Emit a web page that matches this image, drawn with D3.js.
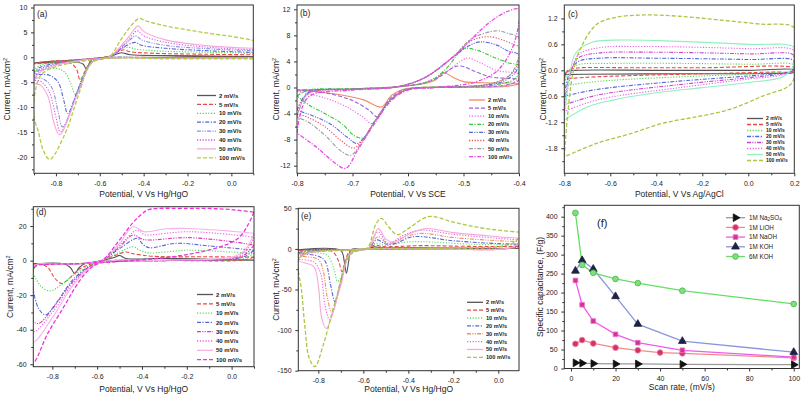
<!DOCTYPE html>
<html><head><meta charset="utf-8">
<script src="https://cdn.jsdelivr.net/npm/d3@7"></script>
<style>body{margin:0;background:#fff}svg{display:block}text{font-family:"Liberation Sans",Arial,sans-serif;fill:#222}</style>
</head><body><svg id="c" width="803" height="400"></svg>
<script>
// ---------- data ----------
const rateLabels = ["2 mV/s","5 mV/s","10 mV/s","20 mV/s","30 mV/s","40 mV/s","50 mV/s","100 mV/s"];

// (a) Hg/HgO  [potential V, current mA/cm2]
const cvA = [
 [[0.1,0.15],[-0.2,0.05],[-0.45,-0.05],[-0.6,-0.2],[-0.64,-0.6],[-0.66,-2.5],[-0.675,-1.4],[-0.7,-1.0],[-0.8,-1.0],[-0.9,-1.15],[-0.85,-0.9],[-0.7,-0.5],[-0.6,-0.1],[-0.55,0.2],[-0.52,0.7],[-0.5,0.9],[-0.46,0.5],[-0.3,0.35],[-0.1,0.25],[0.1,0.15]],
 [[0.1,0.0],[-0.3,-0.05],[-0.6,-0.2],[-0.64,-0.8],[-0.67,-3.0],[-0.69,-4.6],[-0.705,-2.5],[-0.73,-1.3],[-0.8,-1.1],[-0.9,-1.3],[-0.85,-0.9],[-0.7,-0.5],[-0.6,-0.1],[-0.55,0.3],[-0.51,1.2],[-0.49,1.5],[-0.46,1.1],[-0.35,0.8],[-0.1,0.6],[0.1,0.5]],
 [[0.1,-0.05],[-0.3,-0.1],[-0.6,-0.25],[-0.64,-1.0],[-0.68,-4.0],[-0.712,-7.4],[-0.73,-5.5],[-0.76,-3.0],[-0.8,-2.2],[-0.9,-2.6],[-0.87,-1.6],[-0.8,-1.0],[-0.65,-0.4],[-0.57,0],[-0.53,0.9],[-0.49,1.9],[-0.47,2.0],[-0.43,1.6],[-0.3,1.2],[-0.1,1.0],[0.1,0.8]],
 [[0.1,-0.1],[-0.3,-0.15],[-0.6,-0.3],[-0.64,-1.2],[-0.7,-6.5],[-0.746,-11.3],[-0.765,-8.5],[-0.79,-5],[-0.83,-3.6],[-0.9,-3.3],[-0.88,-2.2],[-0.8,-1.2],[-0.65,-0.4],[-0.56,0],[-0.5,1.8],[-0.44,3.0],[-0.41,2.4],[-0.3,1.8],[-0.1,1.3],[0.1,1.0]],
 [[0.1,-0.1],[-0.3,-0.15],[-0.6,-0.3],[-0.64,-1.2],[-0.7,-6.8],[-0.77,-14],[-0.79,-11],[-0.82,-6],[-0.86,-4.3],[-0.9,-4.0],[-0.88,-2.6],[-0.8,-1.4],[-0.65,-0.4],[-0.56,0],[-0.48,2.8],[-0.435,4.3],[-0.41,3.5],[-0.3,2.4],[-0.1,1.7],[0.1,1.3]],
 [[0.1,-0.1],[-0.3,-0.2],[-0.6,-0.3],[-0.64,-1.2],[-0.7,-7],[-0.779,-15],[-0.8,-12],[-0.83,-7],[-0.87,-4.8],[-0.9,-4.5],[-0.88,-3],[-0.8,-1.5],[-0.65,-0.4],[-0.56,0],[-0.47,3.5],[-0.43,5.3],[-0.4,4.3],[-0.3,3.0],[-0.1,2.0],[0.1,1.5]],
 [[0.1,-0.15],[-0.3,-0.2],[-0.6,-0.3],[-0.64,-1.2],[-0.7,-7.2],[-0.784,-15.6],[-0.81,-13],[-0.835,-8],[-0.87,-5.6],[-0.9,-5.2],[-0.88,-3.3],[-0.8,-1.6],[-0.65,-0.4],[-0.56,0],[-0.47,4.0],[-0.425,6.3],[-0.4,5.2],[-0.3,3.5],[-0.1,2.3],[0.1,1.8]],
 [[0.1,-0.3],[-0.3,-0.3],[-0.6,-0.4],[-0.645,-1.5],[-0.7,-8],[-0.76,-15.5],[-0.828,-20.5],[-0.855,-19],[-0.88,-15],[-0.9,-12],[-0.9,-8.6],[-0.875,-4],[-0.84,-2.6],[-0.76,-1.4],[-0.65,-0.6],[-0.56,0],[-0.5,3.8],[-0.44,7.2],[-0.418,7.8],[-0.39,7.3],[-0.3,6.3],[-0.2,5.5],[-0.1,4.8],[0,4.2],[0.1,3.4]]
];

// (b) SCE
const cvB = [
 [[-0.8,-0.4],[-0.7,-0.2],[-0.62,0.1],[-0.57,0.6],[-0.55,1.2],[-0.536,2.3],[-0.52,1.6],[-0.5,0.9],[-0.45,0.7],[-0.4,0.6],[-0.42,0.2],[-0.5,0.05],[-0.58,0],[-0.61,-0.3],[-0.63,-1.2],[-0.648,-3.0],[-0.68,-1.9],[-0.72,-1.15],[-0.76,-0.7],[-0.8,-0.4]],
 [[-0.8,-0.4],[-0.7,-0.2],[-0.62,0.1],[-0.57,0.7],[-0.54,1.8],[-0.52,3.0],[-0.505,3.3],[-0.48,2.5],[-0.45,1.6],[-0.4,1.2],[-0.42,0.4],[-0.5,0.05],[-0.58,-0.05],[-0.61,-0.4],[-0.635,-2],[-0.655,-4.5],[-0.67,-3.5],[-0.7,-2],[-0.75,-0.8],[-0.8,-0.4]],
 [[-0.8,-0.6],[-0.7,-0.2],[-0.62,0.1],[-0.57,0.8],[-0.53,2.5],[-0.5,4.3],[-0.49,4.5],[-0.47,3.8],[-0.44,2.6],[-0.4,2.0],[-0.41,0.7],[-0.45,0.2],[-0.55,0],[-0.6,-0.3],[-0.63,-1.5],[-0.665,-5.5],[-0.68,-4.6],[-0.71,-3],[-0.75,-1.6],[-0.8,-0.6]],
 [[-0.8,-1.3],[-0.78,-0.4],[-0.7,-0.2],[-0.62,0.1],[-0.56,1],[-0.53,3],[-0.51,5.2],[-0.5,6.0],[-0.475,5.7],[-0.45,4.8],[-0.42,3.8],[-0.4,3.3],[-0.405,1.5],[-0.43,0.6],[-0.5,0.1],[-0.6,-0.3],[-0.63,-1.8],[-0.66,-5.2],[-0.68,-7.7],[-0.695,-7.5],[-0.72,-5.5],[-0.75,-4.0],[-0.78,-2.6],[-0.8,-1.3]],
 [[-0.8,-3.5],[-0.78,-0.8],[-0.7,-0.3],[-0.62,0.1],[-0.57,1.5],[-0.52,4.6],[-0.49,6.4],[-0.47,7.0],[-0.44,6.5],[-0.42,5.6],[-0.4,5.0],[-0.405,2.5],[-0.43,0.9],[-0.47,0.3],[-0.55,0],[-0.6,-0.3],[-0.63,-1.8],[-0.66,-5.2],[-0.68,-7.8],[-0.692,-8.6],[-0.71,-7.6],[-0.74,-5.6],[-0.77,-4.4],[-0.8,-3.5]],
 [[-0.8,-4],[-0.78,-0.9],[-0.7,-0.3],[-0.62,0.1],[-0.57,1.5],[-0.52,4.6],[-0.485,7.2],[-0.455,7.8],[-0.43,7.3],[-0.41,6.6],[-0.4,6.2],[-0.405,3],[-0.43,1.2],[-0.47,0.3],[-0.55,0],[-0.6,-0.3],[-0.63,-1.8],[-0.66,-5.2],[-0.68,-7.8],[-0.698,-9.3],[-0.72,-8.2],[-0.75,-6.0],[-0.78,-4.6],[-0.8,-4]],
 [[-0.8,-4.6],[-0.78,-1],[-0.7,-0.3],[-0.62,0.1],[-0.57,1.5],[-0.52,4.6],[-0.485,7.5],[-0.44,8.7],[-0.42,8.3],[-0.4,7.6],[-0.403,4],[-0.42,1.6],[-0.46,0.4],[-0.55,0],[-0.6,-0.3],[-0.63,-1.8],[-0.66,-5.2],[-0.68,-8],[-0.703,-10.4],[-0.72,-9.8],[-0.75,-7.3],[-0.78,-5.3],[-0.8,-4.6]],
 [[-0.8,-7],[-0.78,-1.5],[-0.7,-0.4],[-0.62,0.1],[-0.57,1.5],[-0.52,4.6],[-0.485,7.5],[-0.45,10.2],[-0.42,11.7],[-0.4,12],[-0.402,9],[-0.415,5.5],[-0.44,2.5],[-0.48,0.8],[-0.55,0],[-0.6,-0.4],[-0.63,-2],[-0.66,-5.5],[-0.69,-9.5],[-0.712,-12.4],[-0.73,-11.7],[-0.76,-9.5],[-0.78,-8.2],[-0.8,-7]]
];

// (c) Ag/AgCl
const cvC = [
 [[-0.8,-0.1],[-0.785,-0.02],[-0.75,0.0],[-0.4,0.0],[0,0.0],[0.2,0.01],[0.195,-0.05],[0.1,-0.07],[-0.3,-0.08],[-0.7,-0.09],[-0.8,-0.1]],
 [[-0.8,-0.2],[-0.785,0.0],[-0.75,0.05],[-0.5,0.06],[-0.2,0.06],[0.2,0.05],[0.195,-0.02],[0.1,-0.04],[-0.2,-0.08],[-0.5,-0.12],[-0.7,-0.16],[-0.8,-0.2]],
 [[-0.8,-0.36],[-0.78,0.0],[-0.74,0.13],[-0.6,0.16],[-0.3,0.16],[0,0.14],[0.2,0.12],[0.195,-0.02],[0.1,-0.06],[-0.2,-0.13],[-0.5,-0.2],[-0.7,-0.28],[-0.8,-0.36]],
 [[-0.8,-0.6],[-0.78,-0.1],[-0.74,0.2],[-0.65,0.28],[-0.4,0.28],[0,0.25],[0.2,0.22],[0.195,0.0],[0.15,-0.06],[0,-0.13],[-0.3,-0.25],[-0.6,-0.4],[-0.7,-0.48],[-0.8,-0.6]],
 [[-0.8,-0.8],[-0.78,-0.2],[-0.74,0.28],[-0.65,0.4],[-0.45,0.42],[0,0.38],[0.2,0.34],[0.195,0.0],[0.15,-0.08],[0,-0.17],[-0.3,-0.33],[-0.6,-0.52],[-0.7,-0.63],[-0.8,-0.8]],
 [[-0.8,-0.95],[-0.78,-0.3],[-0.74,0.35],[-0.65,0.52],[-0.45,0.55],[0,0.5],[0.2,0.45],[0.195,0.05],[0.15,-0.1],[0,-0.2],[-0.3,-0.4],[-0.6,-0.62],[-0.7,-0.75],[-0.8,-0.95]],
 [[-0.8,-1.15],[-0.785,-0.4],[-0.75,0.4],[-0.68,0.65],[-0.55,0.7],[-0.3,0.67],[0,0.6],[0.2,0.52],[0.195,0.1],[0.15,-0.15],[0,-0.28],[-0.2,-0.4],[-0.4,-0.52],[-0.6,-0.7],[-0.7,-0.85],[-0.8,-1.15]],
 [[-0.8,-2.0],[-0.785,-1.0],[-0.76,0.0],[-0.73,0.5],[-0.66,1.06],[-0.58,1.22],[-0.45,1.28],[-0.3,1.25],[-0.1,1.15],[0.05,1.07],[0.2,0.98],[0.197,0.3],[0.19,-0.29],[0.06,-0.6],[-0.08,-0.9],[-0.22,-1.07],[-0.37,-1.22],[-0.51,-1.46],[-0.66,-1.69],[-0.8,-2.0]]
];

// (d) Hg/HgO
const cvD = [
 [[0.1,0.3],[-0.3,0.2],[-0.6,-1.0],[-0.65,-1.5],[-0.68,-4],[-0.7,-7.5],[-0.72,-4],[-0.75,-1.8],[-0.885,-1.8],[-0.8,-1.7],[-0.65,-1.5],[-0.58,0],[-0.52,2],[-0.5,3],[-0.47,1.2],[-0.3,1.3],[-0.1,0.8],[0.1,0.3]],
 [[0.1,2],[0.05,0.3],[-0.3,0],[-0.6,-1.2],[-0.68,-5],[-0.73,-11],[-0.76,-13.2],[-0.79,-10],[-0.82,-4],[-0.85,-2.2],[-0.885,-2],[-0.8,-1.8],[-0.65,-1.5],[-0.58,0],[-0.52,3],[-0.47,5],[-0.44,4],[-0.35,2.5],[-0.1,2.2],[0.1,2]],
 [[0.1,4.2],[0.06,1.5],[0,0.5],[-0.3,0],[-0.6,-1.3],[-0.7,-8],[-0.76,-14],[-0.81,-17.5],[-0.85,-15],[-0.875,-10],[-0.885,-7],[-0.87,-2.5],[-0.8,-1.8],[-0.65,-1.5],[-0.58,0],[-0.5,5],[-0.44,8],[-0.41,6],[-0.37,4.5],[-0.2,6],[0,5],[0.1,4.2]],
 [[0.1,6],[0.06,2.5],[0,0.8],[-0.3,0],[-0.6,-1.5],[-0.7,-10],[-0.78,-24],[-0.83,-31.4],[-0.86,-28],[-0.885,-16],[-0.88,-3],[-0.8,-2],[-0.65,-1.5],[-0.58,0],[-0.5,7],[-0.42,12.9],[-0.4,10],[-0.37,7.5],[-0.25,10],[-0.1,8.5],[0.1,6]],
 [[0.1,9],[0.06,3.5],[0,1],[-0.3,0],[-0.6,-1.6],[-0.7,-11],[-0.8,-28],[-0.86,-36.3],[-0.885,-35],[-0.88,-3],[-0.8,-2],[-0.65,-1.5],[-0.58,0],[-0.5,8],[-0.44,14.8],[-0.4,12.5],[-0.37,11.9],[-0.2,13.3],[0,11],[0.1,9]],
 [[0.1,13.5],[0.06,5],[0,1.5],[-0.3,0],[-0.6,-1.7],[-0.7,-12],[-0.8,-30],[-0.885,-41],[-0.88,-3],[-0.8,-2],[-0.65,-1.5],[-0.58,0],[-0.5,9],[-0.42,17.7],[-0.39,15],[-0.37,14.8],[-0.2,16.7],[0,15],[0.1,13.5]],
 [[0.1,15.8],[0.06,6],[0,2],[-0.3,0.2],[-0.6,-1.8],[-0.7,-13],[-0.8,-33],[-0.885,-47],[-0.88,-3],[-0.8,-2],[-0.65,-1.5],[-0.58,0],[-0.5,10],[-0.44,19.6],[-0.39,16.7],[-0.3,18.3],[-0.2,18.6],[0,17],[0.1,15.8]],
 [[0.1,28],[0.07,20],[0.03,13],[-0.05,8],[-0.2,3.5],[-0.35,1],[-0.5,-0.5],[-0.6,-2],[-0.65,-7],[-0.7,-16],[-0.75,-27],[-0.82,-42],[-0.885,-59],[-0.88,-4],[-0.8,-2.2],[-0.65,-1.5],[-0.58,0],[-0.5,12],[-0.44,22],[-0.4,27],[-0.37,29.5],[-0.2,30.2],[-0.1,30.2],[0,29.5],[0.1,28]]
];

// (e) Hg/HgO
const cvE = [
 [[0.1,0.5],[-0.3,0],[-0.6,-0.5],[-0.655,-1],[-0.665,-15],[-0.675,-30],[-0.685,-15],[-0.7,-2],[-0.889,-1],[-0.8,-0.8],[-0.62,-0.5],[-0.58,0],[-0.55,2.5],[-0.52,1.5],[-0.4,1.5],[-0.2,1],[0.1,0.5]],
 [[0.1,1],[-0.3,0],[-0.6,-0.5],[-0.66,-3],[-0.685,-20],[-0.695,-28],[-0.71,-15],[-0.74,-3],[-0.889,-2],[-0.8,-1.5],[-0.62,-0.5],[-0.58,0],[-0.55,4.9],[-0.52,3],[-0.45,3],[-0.35,4],[-0.1,3],[0.1,3]],
 [[0.1,3],[0.07,1],[-0.3,0],[-0.6,-0.6],[-0.66,-5],[-0.7,-35],[-0.715,-40],[-0.73,-25],[-0.76,-8],[-0.8,-5],[-0.889,-4],[-0.85,-2],[-0.62,-0.6],[-0.58,0],[-0.545,7],[-0.5,4],[-0.42,8],[-0.35,9],[-0.1,5.5],[0.1,4.9]],
 [[0.1,5.7],[0.07,1.5],[-0.3,0],[-0.6,-0.7],[-0.66,-6],[-0.7,-40],[-0.726,-65],[-0.745,-45],[-0.77,-15],[-0.8,-9],[-0.889,-5],[-0.85,-3],[-0.62,-0.7],[-0.58,0],[-0.54,11],[-0.5,6],[-0.46,6.5],[-0.38,15],[-0.2,10],[0,6.5],[0.1,5.7]],
 [[0.1,9],[0.07,2],[-0.3,0],[-0.6,-0.8],[-0.66,-6],[-0.7,-42],[-0.74,-78],[-0.76,-60],[-0.78,-25],[-0.8,-13],[-0.889,-8],[-0.85,-4],[-0.62,-0.8],[-0.58,0],[-0.535,15],[-0.49,6],[-0.44,12],[-0.35,19],[-0.2,14],[0,10],[0.1,9]],
 [[0.1,11],[0.07,2.5],[-0.3,0],[-0.6,-0.8],[-0.66,-6],[-0.7,-42],[-0.75,-87],[-0.77,-70],[-0.79,-30],[-0.82,-16],[-0.889,-12],[-0.85,-5],[-0.62,-0.8],[-0.58,0],[-0.535,21],[-0.49,7],[-0.42,17],[-0.35,23],[-0.2,18],[0,13],[0.1,11]],
 [[0.1,13],[0.07,3],[-0.3,0],[-0.6,-0.8],[-0.66,-6],[-0.7,-45],[-0.765,-98],[-0.785,-85],[-0.8,-45],[-0.82,-22],[-0.889,-14],[-0.85,-6],[-0.62,-0.8],[-0.58,0],[-0.533,25],[-0.5,12],[-0.46,8],[-0.4,18],[-0.32,25],[-0.2,20],[0,15],[0.1,13]],
 [[0.1,20],[0.08,10],[0.03,4],[-0.3,0.5],[-0.6,-1],[-0.66,-8],[-0.72,-60],[-0.78,-120],[-0.815,-145],[-0.84,-135],[-0.86,-95],[-0.875,-50],[-0.889,-25],[-0.885,-12],[-0.85,-5],[-0.62,-1],[-0.58,2],[-0.545,30],[-0.52,37.7],[-0.49,28],[-0.45,17.5],[-0.4,25],[-0.31,39.8],[-0.2,33],[-0.1,27],[0,23],[0.1,20.5]]
];

// (f) specific capacitance vs scan rate
const electrolytes = ["1M Na2SO4","1M LiOH","1M NaOH","1M KOH","6M KOH"];
const rateNa2SO4 = [2,5,10,20,30,50,100];
const capNa2SO4  = [15,14,13,12,12,11,10];
const rateLiOH = [2,5,10,20,30,40,50,100];
const capLiOH  = [65,75,66,55,48,42,40,28];
const rateNaOH = [2,5,10,20,30,50,100];
const capNaOH  = [232,168,125,90,68,48,30];
const rateKOH1 = [2,5,10,20,30,50,100];
const capKOH1  = [257,285,262,190,117,72,43];
const rateKOH6 = [2,5,10,20,30,50,100];
const capKOH6  = [410,273,252,236,225,205,170];

// tick labels
const xTicksHg = [-0.8,-0.6,-0.4,-0.2,0.0];
const xTicksSCE = [-0.8,-0.7,-0.6,-0.5,-0.4];
const xTicksAg = [-0.8,-0.6,-0.4,-0.2,0.0,0.2];
const yTicksA = [-20,-15,-10,-5,0,5,10];
const yTicksB = [-12,-8,-4,0,4,8,12];
const yTicksC = [-1.8,-1.2,-0.6,0.0,0.6,1.2];
const yTicksD = [-60,-40,-20,0,20];
const yTicksE = [-150,-100,-50,0,50];
const xTicksF = [0,20,40,60,80,100];
const yTicksF = [0,50,100,150,200,250,300,350,400];

// ---------- styles ----------
const DASH = {s:null, d:"4,2", o:"1.2,1.6", dd:"4,1.5,1.2,1.5", ddd:"4,1.3,1.1,1.3,1.1,1.3"};
const styleA = [["#555","s"],["#ea4848","d"],["#4fd34f","o"],["#5468d8","dd"],["#8a8fe6","ddd"],["#e352e3","o"],["#f6a9d9","s"],["#b3cc45","d"]];
const styleB = [["#f08a6a","s"],["#9a62da","d"],["#ef62ef","o"],["#37c837","dd"],["#5566dd","ddd"],["#ef4a5a","o"],["#9a9a9a","dd"],["#ee44ee","dd"]];
const styleC = [["#555","s"],["#ea4848","d"],["#55d855","o"],["#5468d8","dd"],["#cc44cc","ddd"],["#ee5cee","o"],["#8ff0c0","s"],["#a8c840","d"]];
const styleD = [["#555","s"],["#ea4848","d"],["#55d855","o"],["#5468d8","dd"],["#dd33aa","ddd"],["#ee5cee","o"],["#f5b2e6","s"],["#ee33dd","d"]];
const styleE = [["#555","s"],["#ea4848","d"],["#66dd66","o"],["#5468d8","dd"],["#f09060","ddd"],["#ee5cee","o"],["#f6a9d9","s"],["#a8c840","d"]];

const svg = d3.select("#c");
const fmt1 = d => (Math.abs(d) < 1e-9 ? 0 : d).toFixed(1);
const fmt0 = d => String(d);

function frame(p){
  const x = d3.scaleLinear().domain(p.xd).range(p.xr);
  const y = d3.scaleLinear().domain(p.yd).range(p.yr);
  const g = svg.append("g");
  // minor ticks
  const gx = g.append("g").attr("transform",`translate(0,${p.yr[0]})`)
    .call(d3.axisBottom(x).tickValues(p.xt).tickFormat(p.xf).tickSize(3).tickSizeOuter(0));
  const gy = g.append("g").attr("transform",`translate(${p.xr[0]},0)`)
    .call(d3.axisLeft(y).tickValues(p.yt).tickFormat(p.yf).tickSize(3).tickSizeOuter(0));
  [gx,gy].forEach(a=>{a.select(".domain").remove(); a.selectAll("line").attr("stroke","#333");
    a.selectAll("text").attr("font-size",7).attr("fill","#333").style("font-family","Liberation Sans, Arial");});
  gx.selectAll("text").attr("dy","0.9em");
  gy.selectAll("text").attr("dx","-0.1em");
  if(p.xm) g.append("g").attr("transform",`translate(0,${p.yr[0]})`)
    .call(d3.axisBottom(x).tickValues(p.xm).tickFormat("").tickSize(2).tickSizeOuter(0))
    .call(a=>{a.select(".domain").remove(); a.selectAll("line").attr("stroke","#333");});
  if(p.ym) g.append("g").attr("transform",`translate(${p.xr[0]},0)`)
    .call(d3.axisLeft(y).tickValues(p.ym).tickFormat("").tickSize(2).tickSizeOuter(0))
    .call(a=>{a.select(".domain").remove(); a.selectAll("line").attr("stroke","#333");});
  // clip
  const cid = "clip"+p.id;
  svg.append("clipPath").attr("id",cid).append("rect")
    .attr("x",p.xr[0]).attr("y",p.yr[1]).attr("width",p.xr[1]-p.xr[0]).attr("height",p.yr[0]-p.yr[1]);
  const plot = svg.append("g").attr("clip-path",`url(#${cid})`);
  // box
  svg.append("rect").attr("x",p.xr[0]).attr("y",p.yr[1]).attr("width",p.xr[1]-p.xr[0]).attr("height",p.yr[0]-p.yr[1])
    .attr("fill","none").attr("stroke","#333").attr("stroke-width",1);
  // titles
  svg.append("text").attr("x",(p.xr[0]+p.xr[1])/2).attr("y",p.xty).attr("text-anchor","middle")
    .attr("font-size",8.5).attr("fill","#333").text(p.xtitle);
  const yt = svg.append("text").attr("transform",`translate(${p.ytx},${(p.yr[0]+p.yr[1])/2}) rotate(-90)`)
    .attr("text-anchor","middle").attr("font-size",8.5).attr("fill","#333");
  if(p.ytitle) yt.text(p.ytitle);
  else { yt.append("tspan").text("Current, mA/cm"); yt.append("tspan").attr("font-size",5.5).attr("dy",-3.5).text("2"); }
  svg.append("text").attr("x",p.lab[0]).attr("y",p.lab[1]).attr("font-size",p.lab[2]).attr("fill","#222").text(`(${p.id})`);
  return {x,y,plot};
}

function cvPanel(p, data, styles, leg){
  const {x,y,plot} = frame(p);
  const line = d3.line().x(d=>x(d[0])).y(d=>y(d[1])).curve(d3.curveCatmullRom.alpha(0.5));
  data.forEach((c,i)=>{
    plot.append("path").attr("d",line(c)).attr("fill","none").attr("stroke",styles[i][0])
      .attr("stroke-width",i===7?1.3:1.1).attr("stroke-dasharray",DASH[styles[i][1]]);
  });
  const lg = svg.append("g");
  rateLabels.forEach((t,i)=>{
    const yy = leg.y0 + i*leg.dy;
    lg.append("line").attr("x1",leg.x0).attr("x2",leg.x1).attr("y1",yy).attr("y2",yy)
      .attr("stroke",styles[i][0]).attr("stroke-width",1.3).attr("stroke-dasharray",DASH[styles[i][1]]);
    lg.append("text").attr("x",leg.x1+3).attr("y",yy).attr("dy","0.35em").attr("font-size",leg.fs)
      .attr("font-weight","bold").attr("fill","#222").text(t);
  });
}

const topY=[173.3,5], botXTitleY=392, topXTitleY=197;
cvPanel({id:"a",xr:[34,253.3],yr:topY,xd:[-0.9,0.1],yd:[-23.3,10.5],xt:xTicksHg,xf:fmt1,xm:[-0.9,-0.7,-0.5,-0.3,-0.1,0.1],
  yt:yTicksA,yf:fmt0,ym:[-22.5,-17.5,-12.5,-7.5,-2.5,2.5,7.5],xtitle:"Potential, V Vs Hg/HgO",xty:topXTitleY,ytx:10,lab:[37,17,8.5]},
  cvA, styleA, {x0:197,x1:216,y0:95.5,dy:8.9,fs:6});
cvPanel({id:"b",xr:[297,519],yr:topY,xd:[-0.8,-0.4],yd:[-13.17,12.66],xt:xTicksSCE,xf:fmt1,xm:[-0.75,-0.65,-0.55,-0.45],
  yt:yTicksB,yf:fmt0,ym:[-10,-6,-2,2,6,10],xtitle:"Potential, V Vs SCE",xty:topXTitleY,ytx:279,lab:[300,16,8.5]},
  cvB, styleB, {x0:469,x1:485,y0:100,dy:8.1,fs:5.6});
cvPanel({id:"c",xr:[564.3,794.3],yr:topY,xd:[-0.8,0.2],yd:[-2.38,1.51],xt:xTicksAg,xf:fmt1,xm:[-0.7,-0.5,-0.3,-0.1,0.1],
  yt:yTicksC,yf:fmt1,ym:[-2.1,-1.5,-0.9,-0.3,0.3,0.9],xtitle:"Potential, V Vs Ag/AgCl",xty:topXTitleY,ytx:546,lab:[568,17,8.5]},
  cvC, styleC, {x0:747,x1:763,y0:118.5,dy:6.0,fs:5});
cvPanel({id:"d",xr:[33.3,254],yr:[366.7,206.7],xd:[-0.885,0.1],yd:[-61.4,31.2],xt:xTicksHg,xf:fmt1,xm:[-0.7,-0.5,-0.3,-0.1,0.1],
  yt:yTicksD,yf:fmt0,ym:[-50,-30,-10,10,30],xtitle:"Potential, V Vs Hg/HgO",xty:botXTitleY,ytx:13,lab:[36,215,8.5]},
  cvD, styleD, {x0:197,x1:213,y0:294.5,dy:9.3,fs:6});
cvPanel({id:"e",xr:[298.3,519],yr:[370.7,208.3],xd:[-0.889,0.092],yd:[-150,50],xt:xTicksHg,xf:fmt1,xm:[-0.7,-0.5,-0.3,-0.1],
  yt:yTicksE,yf:fmt0,ym:[-125,-75,-25,25],xtitle:"Potential, V Vs Hg/HgO",xty:botXTitleY,ytx:279,lab:[301,219,8.5]},
  cvE, styleE, {x0:467,x1:483,y0:302.3,dy:7.86,fs:5.6});

// (f)
(function(){
  const p = {id:"f",xr:[564.3,799.3],yr:[368.5,205.3],xd:[-3,102.5],yd:[0,430],xt:xTicksF,xf:fmt0,xm:[10,30,50,70,90],
    yt:yTicksF,yf:fmt0,ym:[25,75,125,175,225,275,325,375,425],xtitle:"Scan rate, (mV/s)",xty:390,ytx:543,
    ytitle:"Specific capacitance, (F/g)",lab:[597,227,11]};
  const {x,y,plot} = frame(p);
  svg.selectAll("text").filter(function(){return this.textContent==="(f)";}).attr("font-size",11);
  const series = [
    {r:rateNa2SO4,c:capNa2SO4,line:"#9a9a9a",fill:"#111",stroke:"#111",sym:"tri",rot:90},
    {r:rateLiOH,c:capLiOH,line:"#f28a8a",fill:"#d0336b",stroke:"#f080a0",sym:"circ"},
    {r:rateNaOH,c:capNaOH,line:"#ee5cee",fill:"#d2338f",stroke:"#f070d0",sym:"sq"},
    {r:rateKOH1,c:capKOH1,line:"#8898dd",fill:"#1c2050",stroke:"#223",sym:"tri",rot:0},
    {r:rateKOH6,c:capKOH6,line:"#66dd66",fill:"#7de07d",stroke:"#4cb84c",sym:"circ"}
  ];
  const symOf = s => s==="tri"?d3.symbolTriangle:(s==="sq"?d3.symbolSquare:d3.symbolCircle);
  const ln = d3.line().x(d=>x(d[0])).y(d=>y(d[1]));
  series.forEach(s=>{
    const pts = s.r.map((v,i)=>[v,s.c[i]]);
    plot.append("path").attr("d",ln(pts)).attr("fill","none").attr("stroke",s.line).attr("stroke-width",1.3);
  });
  series.forEach(s=>{
    const pts = s.r.map((v,i)=>[v,s.c[i]]);
    svg.append("g").selectAll("path").data(pts).join("path")
      .attr("transform",d=>`translate(${x(d[0])},${y(d[1])}) rotate(${s.rot||0})`)
      .attr("d",d3.symbol().type(symOf(s.sym)).size(s.sym==="sq"?22:26))
      .attr("fill",s.fill).attr("stroke",s.stroke).attr("stroke-width",0.8);
  });
  // legend
  const lg = svg.append("g");
  series.forEach((s,i)=>{
    const yy = 217.7 + i*9.7;
    lg.append("line").attr("x1",726).attr("x2",745).attr("y1",yy).attr("y2",yy).attr("stroke",s.line).attr("stroke-width",1.3);
    lg.append("path").attr("transform",`translate(735.5,${yy}) rotate(${s.rot||0})`)
      .attr("d",d3.symbol().type(symOf(s.sym)).size(s.sym==="sq"?22:26))
      .attr("fill",s.fill).attr("stroke",s.stroke).attr("stroke-width",0.8);
    const t = lg.append("text").attr("x",749).attr("y",yy).attr("dy","0.35em").attr("font-size",6.3).attr("fill","#222");
    if(i===0){ t.append("tspan").text("1M Na"); t.append("tspan").attr("font-size",4.5).attr("dy",1.5).text("2");
      t.append("tspan").attr("dy",-1.5).text("SO"); t.append("tspan").attr("font-size",4.5).attr("dy",1.5).text("4"); }
    else t.text(electrolytes[i]);
  });
})();
</script></body></html>
